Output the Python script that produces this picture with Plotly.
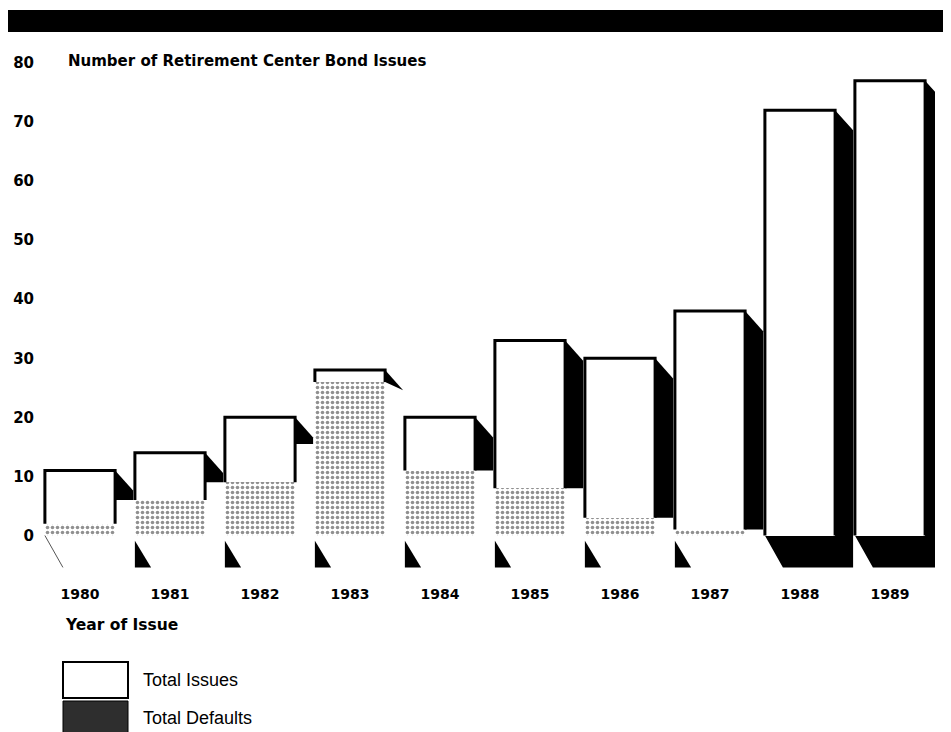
import plotly.graph_objects as go

# ---- data ----
years = [1980, 1981, 1982, 1983, 1984, 1985, 1986, 1987, 1988, 1989]
year_labels = ["1980", "1981", "1982", "1983", "1984", "1985", "1986", "1987", "1988", "1989"]
total_issues = [11, 14, 20, 28, 20, 33, 30, 38, 72, 77]
total_defaults = [2, 6, 9, 26, 11, 8, 3, 1, 0, 0]
y_ticks = [0, 10, 20, 30, 40, 50, 60, 70, 80]

# ---- styling constants ----
BAR_W = 0.78
SH_DX = 0.2      # shadow depth (x units)
SH_DY_TOP = 3.4  # shadow drop at top (y units)
SH_DY_BOT = 5.4  # shadow depth under the baseline (y units)
BOLD = "DejaVu Sans"
REG = "Liberation Sans"
PAGE_OFF = 8     # browser body margin

fig = go.Figure()

# Total issues: white bars
fig.add_trace(go.Bar(
    x=years, y=total_issues, width=BAR_W, name="Total Issues",
    marker=dict(color="white", line=dict(width=0)), showlegend=False,
))
# Total defaults: dotted pattern bars
fig.add_trace(go.Bar(
    x=years, y=total_defaults, width=BAR_W, name="Total Defaults",
    marker=dict(color="white", line=dict(width=0),
                pattern=dict(shape=".", size=5, solidity=0.4,
                             fgcolor="#222222", bgcolor="white")),
    showlegend=False,
))

# Outline of the issue bars (left, top, right edges, down to the defaults)
ox, oy = [], []
for yr, top, d in zip(years, total_issues, total_defaults):
    xl, xr = yr - BAR_W / 2, yr + BAR_W / 2
    ox += [xl, xl, xr, xr, None]
    oy += [d, top, top, d, None]
fig.add_trace(go.Scatter(x=ox, y=oy, mode="lines", line=dict(color="black", width=3),
                         hoverinfo="skip", showlegend=False))

# Drop shadows
shapes = []
n = len(years)
for i, (yr, top, d) in enumerate(zip(years, total_issues, total_defaults)):
    xl, xr = yr - BAR_W / 2, yr + BAR_W / 2
    nxt = total_defaults[i + 1] if i < n - 1 else 0
    stop = max(d, nxt)
    if stop >= top:
        stop = top - 4.5
    if stop > 0:
        rb = min(top - SH_DY_TOP, stop)
        path = (f"M{xr},{top} L{xr + SH_DX},{top - SH_DY_TOP} "
                f"L{xr + SH_DX},{rb} L{xr},{stop} Z")
        shapes.append(dict(type="path", path=path, xref="x", yref="y",
                           fillcolor="black", line=dict(width=0), layer="below"))
        if i == 0:
            shapes.append(dict(type="line", x0=xl, y0=0, x1=xl + SH_DX, y1=-SH_DY_BOT,
                               xref="x", yref="y", line=dict(color="#555", width=1)))
        else:
            path = (f"M{xl},{-0.9} L{xl},{-SH_DY_BOT} L{xl + SH_DX * 0.9},{-SH_DY_BOT} Z")
            shapes.append(dict(type="path", path=path, xref="x", yref="y",
                               fillcolor="black", line=dict(width=0), layer="below"))
    else:
        path = (f"M{xr},{top} L{xr + SH_DX},{top - SH_DY_TOP} "
                f"L{xr + SH_DX},{-SH_DY_BOT} L{xl + SH_DX},{-SH_DY_BOT} "
                f"L{xl},0 L{xr},0 Z")
        shapes.append(dict(type="path", path=path, xref="x", yref="y",
                           fillcolor="black", line=dict(width=0), layer="below"))

# helpers: page pixel -> paper coordinates (plot area spans x 35..935, y 60..570 on the page)
def py(p):
    return (570 - p) / 510

def px(p):
    return (p - 35) / 900

# Top banner
shapes.append(dict(type="rect", xref="paper", yref="paper", x0=px(8), x1=px(960),
                   y0=py(32), y1=py(10), fillcolor="black", line=dict(width=0)))

# Legend swatches
shapes.append(dict(type="rect", xref="paper", yref="paper", x0=px(63), x1=px(128),
                   y0=py(698), y1=py(662), fillcolor="white",
                   line=dict(color="black", width=2)))
shapes.append(dict(type="rect", xref="paper", yref="paper", x0=px(63), x1=px(128),
                   y0=py(745), y1=py(701), fillcolor="#2e2e2e",
                   line=dict(color="black", width=1)))

annotations = [
    dict(text="<b>Number of Retirement Center Bond Issues</b>", xref="paper", yref="paper",
         x=px(66), y=py(61), xanchor="left", yanchor="middle", showarrow=False,
         font=dict(family=BOLD, size=15, color="black")),
    dict(text="<b>Year of Issue</b>", xref="paper", yref="paper",
         x=px(63), y=py(625), xanchor="left", yanchor="middle", showarrow=False,
         font=dict(family=BOLD, size=15.5, color="black")),
    dict(text="Total Issues", xref="paper", yref="paper",
         x=px(141), y=py(680), xanchor="left", yanchor="middle", showarrow=False,
         font=dict(family=REG, size=18, color="black")),
    dict(text="Total Defaults", xref="paper", yref="paper",
         x=px(141), y=py(718), xanchor="left", yanchor="middle", showarrow=False,
         font=dict(family=REG, size=18, color="black")),
]

fig.update_layout(
    width=951 - PAGE_OFF, height=732 - PAGE_OFF,
    margin=dict(l=35 - PAGE_OFF, r=16, t=60 - PAGE_OFF, b=162),
    paper_bgcolor="white", plot_bgcolor="white",
    barmode="overlay", bargap=0,
    shapes=shapes, annotations=annotations,
    showlegend=False,
)
fig.update_xaxes(range=[1979.5, 1989.5], tickvals=years,
                 ticktext=[f"<b>{t}</b>" for t in year_labels],
                 showgrid=False, zeroline=False, showline=False, ticks="",
                 ticklabelstandoff=14, automargin=False,
                 tickfont=dict(family=BOLD, size=14, color="black"))
fig.update_yaxes(range=[-5.84, 80.5], tickvals=y_ticks,
                 ticktext=[f"<b>{t}</b>" for t in y_ticks],
                 showgrid=False, zeroline=False, showline=False, ticks="",
                 automargin=False,
                 tickfont=dict(family=BOLD, size=15, color="black"))

fig.write_html("out.html")
